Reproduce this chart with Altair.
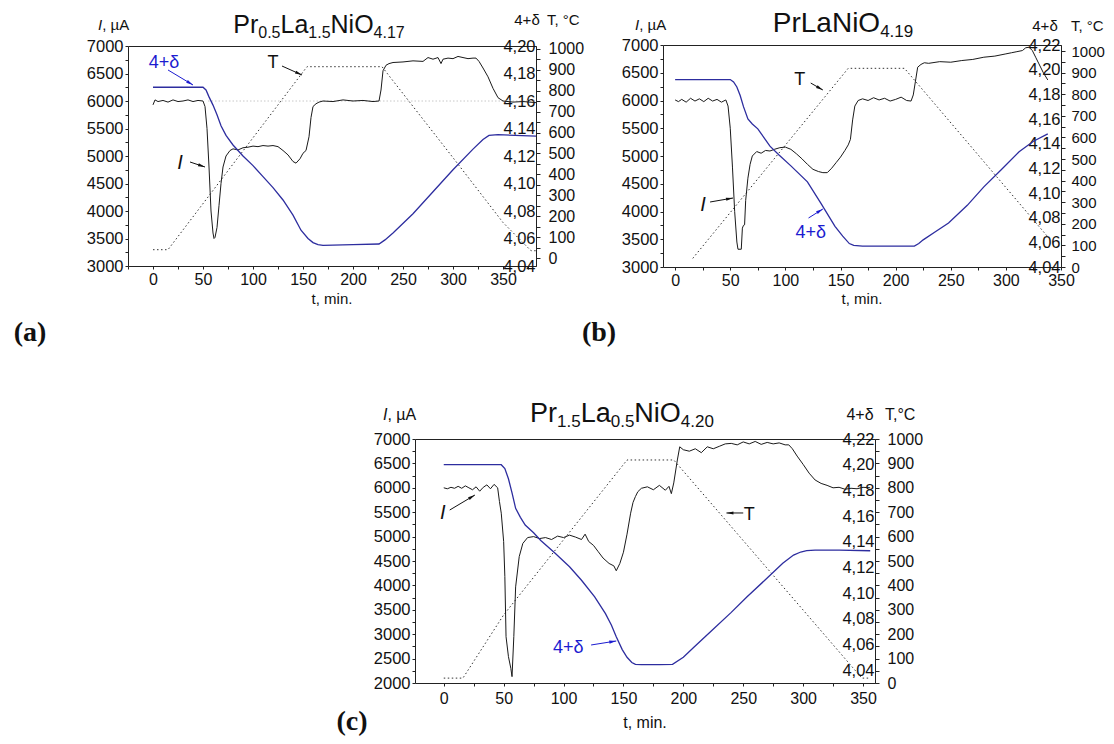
import math
import altair as alt
import pandas as pd

# ---------------- data ----------------
# panel (a)  Pr0.5La1.5NiO4.17
a_I_t = [0, 2, 5, 10, 15, 20, 25, 30, 35, 40, 45, 50, 52, 54, 56, 58, 60, 61, 62, 64,
         66, 68, 70, 73, 77, 80, 85, 90, 95, 100, 105, 110, 115, 120, 125, 130, 135, 140, 143, 147,
         150, 153, 156, 158, 160, 163, 166, 170, 180, 190, 200, 210, 220, 226, 228, 230, 233, 236, 240, 250,
         260, 270, 275, 280, 285, 288, 290, 295, 300, 305, 310, 315, 320, 323, 326, 330, 335, 340, 345, 350,
         360, 370, 383]
a_I_v = [5930, 6020, 5990, 6010, 5980, 6020, 5990, 6000, 6020, 5990, 6010, 6000, 5900, 5500, 4800, 4000, 3600, 3500, 3520, 3700,
         4100, 4500, 4800, 5000, 5100, 5130, 5110, 5150, 5160, 5180, 5170, 5190, 5180, 5190, 5170, 5100, 5020, 4900, 4870, 4950,
         5050, 5100, 5350, 5700, 5900, 5950, 5980, 6000, 5990, 6020, 6000, 6010, 5990, 6000, 6200, 6550, 6650, 6680, 6700, 6710,
         6730, 6720, 6790, 6760, 6790, 6680, 6760, 6780, 6770, 6810, 6790, 6770, 6780, 6780, 6720, 6600, 6440, 6230, 6060, 6000,
         5980, 5990, 5970]
a_d_t = [0, 50, 53, 56, 60, 64, 68, 73, 80, 90, 100, 110, 120, 130, 140, 148, 155, 160, 165, 170,
         200, 226, 232, 240, 260, 280, 300, 320, 330, 336, 345, 383]
a_d_v = [4.170, 4.170, 4.168, 4.163, 4.157, 4.150, 4.142, 4.135, 4.128, 4.120, 4.113, 4.105, 4.097, 4.088, 4.077, 4.066, 4.060, 4.057, 4.0555, 4.055,
         4.0555, 4.056, 4.059, 4.064, 4.078, 4.094, 4.110, 4.125, 4.132, 4.135, 4.1355, 4.1345]
a_T_t = [0, 15, 154, 229, 300, 350, 378, 383]
a_T_v = [40, 40, 915, 915, 480, 170, 35, 35]
a_ref_t = [55, 383]
a_ref_v = [6000, 6000]

# panel (b)  PrLaNiO4.19
b_I_t = [0, 3, 6, 10, 14, 18, 22, 26, 30, 34, 38, 42, 46, 48, 50, 52, 54, 56, 57, 60,
         61, 62, 63, 64, 66, 68, 70, 74, 78, 82, 86, 90, 95, 100, 105, 110, 115, 120, 125, 130,
         134, 138, 142, 146, 150, 154, 157, 159, 161, 163, 166, 170, 175, 180, 185, 190, 195, 200, 205, 210,
         214, 216, 218, 220, 223, 226, 230, 240, 250, 260, 270, 280, 290, 300, 305, 310, 315, 318, 321, 324,
         327, 330, 334, 338]
b_I_v = [6010, 5980, 6020, 5970, 6040, 5990, 6030, 5980, 6040, 5990, 6020, 5970, 6010, 5900, 5500, 4800, 4000, 3450, 3320, 3320,
         3700, 3750, 3760, 4200, 4600, 4850, 5000, 5080, 5050, 5100, 5090, 5120, 5150, 5160, 5120, 5040, 4950, 4850, 4760, 4720,
         4700, 4700, 4780, 4880, 4980, 5100, 5200, 5300, 5650, 5900, 6000, 6030, 6000, 6050, 6010, 6040, 5990, 6020, 6060, 6000,
         5990, 6100, 6350, 6600, 6650, 6680, 6670, 6700, 6690, 6720, 6740, 6780, 6800, 6840, 6860, 6880, 6900, 6950, 6960, 6900,
         6780, 6660, 6500, 6370]
b_d_t = [0, 50, 53, 56, 59, 62, 66, 70, 75, 86, 94, 105, 120, 132, 145, 152, 158, 162, 170, 217,
         221, 225, 235, 248, 265, 280, 296, 312, 325, 338]
b_d_v = [4.192, 4.192, 4.190, 4.186, 4.179, 4.170, 4.160, 4.156, 4.152, 4.138, 4.131, 4.122, 4.109, 4.092, 4.073, 4.065, 4.059, 4.0575, 4.057, 4.057,
         4.059, 4.062, 4.068, 4.0756, 4.090, 4.105, 4.119, 4.1335, 4.142, 4.148]
b_T_t = [16, 157, 208, 338]
b_T_v = [40, 920, 920, 140]

# panel (c)  Pr1.5La0.5NiO4.20
c_I_t = [0, 3, 6, 9, 12, 15, 18, 21, 24, 27, 30, 33, 36, 39, 42, 45, 46.5, 48, 50, 51,
         52, 54, 56, 57, 58.5, 60, 63, 66, 70, 75, 80, 85, 90, 95, 100, 105, 110, 115, 118, 121,
         125, 129, 133, 138, 142, 144, 147, 150, 153, 156, 158, 160, 162, 165, 170, 175, 180, 185, 188, 190,
         192, 195, 197, 200, 205, 210, 215, 220, 225, 230, 235, 240, 245, 250, 255, 260, 265, 270, 275, 280,
         285, 288, 291, 295, 300, 305, 310, 315, 320, 325, 330, 335, 340, 345, 350, 356]
c_I_v = [6000, 5980, 6010, 5990, 6030, 5990, 6040, 6000, 5960, 6020, 5930, 6010, 6060, 5980, 6070, 6000, 5720, 5480, 4900, 4180,
         2950, 2540, 2300, 2130, 2950, 3970, 4590, 4860, 4980, 5000, 4960, 4980, 4940, 5010, 4980, 5030, 4990, 4940, 5050, 4900,
         4820, 4690, 4560, 4450, 4400, 4300, 4450, 4680, 5050, 5480, 5700, 5820, 5920, 5990, 6020, 5960, 6050, 5950, 6030, 5880,
         6100, 6570, 6840, 6780, 6750, 6800, 6720, 6840, 6800, 6850, 6900, 6910, 6880, 6940, 6900, 6950, 6890, 6930, 6900, 6920,
         6880, 6880, 6800, 6650, 6480, 6300, 6160, 6090, 6050, 6000, 6010, 5970, 5990, 5980, 6010, 6000]
c_d_t = [0, 48, 51, 54, 57, 60, 64, 68, 75, 81, 93, 105, 115, 126, 135, 140, 144, 149, 153, 157,
         160, 165, 180, 191, 200, 209, 224, 240, 253, 268, 283, 292, 298, 303, 310, 330, 356]
c_d_v = [4.200, 4.200, 4.197, 4.189, 4.178, 4.166, 4.159, 4.153, 4.147, 4.141, 4.131, 4.1205, 4.110, 4.097, 4.084, 4.075, 4.066, 4.056, 4.050, 4.046,
         4.0445, 4.0443, 4.0443, 4.0445, 4.050, 4.058, 4.071, 4.085, 4.097, 4.110, 4.1232, 4.1296, 4.132, 4.133, 4.1335, 4.1335, 4.133]
c_T_t = [0, 16, 50, 153, 192, 349, 356]
c_T_v = [20, 20, 279, 914, 914, 20, 20]

# ---------------- layout ----------------
W, H = 1098, 728
FONT = "Liberation Sans"
INK = "#111111"
BLUE_LINE = "#2d2d9f"
BLUE_TXT = "#1c1cd0"
ONE = pd.DataFrame({"k": [0]})

PANELS = {
    "a": dict(x0=120, x1=528, y0=38, y1=258, tdom=[-25, 383], Idom=[3000, 7000],
              ddom=[4.04, 4.20], Tdom=[-38, 1014], xpad=2, Tsize=16, Tpad=8),
    "b": dict(x0=655, x1=1053, y0=37, y1=259, tdom=[-11, 350], Idom=[3000, 7000],
              ddom=[4.04, 4.22], Tdom=[0, 1028], xpad=2, Tsize=15, Tpad=6),
    "c": dict(x0=407, x1=867, y0=431, y1=675, tdom=[-24, 360], Idom=[2000, 7000],
              ddom=[4.03, 4.22], Tdom=[0, 1000], xpad=4, Tsize=16, Tpad=8),
}


def df(t, v):
    assert len(t) == len(v)
    return pd.DataFrame({"t": t, "v": v})


def txt(s, x, y, size=15, color=INK, font=FONT, style="normal", weight="normal", align="left"):
    return alt.Chart(ONE).mark_text(
        text=s, fontSize=size, color=color, font=font, fontStyle=style,
        fontWeight=weight, align=align, baseline="alphabetic",
    ).encode(x=alt.value(x), y=alt.value(y))


AW = {"P": 667, "r": 333, "L": 556, "a": 556, "N": 722, "i": 222, "O": 778, ".": 278}
for _d in "0123456789":
    AW[_d] = 556


def formula(parts, cx, base, big=26, small=17):
    widths = [sum(AW[c] for c in s) / 1000 * (small if sub else big) for s, sub in parts]
    x = cx - sum(widths) / 2
    out = []
    for (s, sub), w in zip(parts, widths):
        out.append(txt(s, x, base + (5 if sub else 0), size=small if sub else big))
        x += w
    return out


def axis_title_I(x, base, size=15):
    return [txt("I", x, base, size=size, style="italic"),
            txt(", µA", x + 0.278 * size, base, size=size)]


def panel_layers(key, I_t, I_v, d_t, d_v, T_t, T_v, notes, arrows, extra=None):
    p = PANELS[key]
    xs = alt.Scale(domain=p["tdom"], range=[p["x0"], p["x1"]], nice=False, zero=False)
    yI = alt.Scale(domain=p["Idom"], range=[p["y1"], p["y0"]], nice=False, zero=False)
    yd = alt.Scale(domain=p["ddom"], range=[p["y1"], p["y0"]], nice=False, zero=False)
    yT = alt.Scale(domain=p["Tdom"], range=[p["y1"], p["y0"]], nice=False, zero=False)

    tvals = [v for v in range(-50, 401, 25) if p["tdom"][0] <= v <= p["tdom"][1]]
    Ivals = list(range(p["Idom"][0], p["Idom"][1] + 1, 250))
    n_d = int(round((p["ddom"][1] - p["ddom"][0]) * 100))
    dvals = [round(p["ddom"][0] + 0.01 * k, 2) for k in range(n_d + 1)]
    Tvals = list(range(0, 1001, 50))

    x_axis = alt.Axis(orient="bottom", offset=-(H - p["y1"]), values=tvals, format="d",
                      labelExpr="(datum.value % 50 === 0 && datum.value >= 0 && datum.value <= 350) ? datum.label : ''",
                      title=None, tickSize=3, labelPadding=p["xpad"], labelFontSize=16,
                      labelFlush=False, labelOverlap=False, grid=False)
    top_axis = alt.Axis(orient="top", offset=-p["y0"], labels=False, ticks=False, title=None,
                        grid=False, domain=True)
    I_axis = alt.Axis(orient="left", offset=-p["x0"], values=Ivals, format="d",
                      labelExpr="datum.value % 500 === 0 ? datum.label : ''",
                      title=None, tickSize=3, labelPadding=2, labelFontSize=16.5,
                      labelFlush=False, labelOverlap=False, grid=False)
    d_axis = alt.Axis(orient="left", offset=-p["x1"], values=dvals,
                      labelExpr="abs(round(datum.value*100)) % 2 === 0 ? replace(format(datum.value, '.2f'), '.', ',') : ''",
                      title=None, tickSize=0, labelPadding=1, labelFontSize=16.5,
                      labelFlush=False, labelOverlap=False, grid=False)
    T_axis = alt.Axis(orient="right", offset=-(W - p["x1"]), values=Tvals, format="d",
                      labelExpr="datum.value % 100 === 0 ? datum.label : ''",
                      title=None, tickSize=4, labelPadding=p["Tpad"], labelFontSize=p["Tsize"],
                      labelFlush=False, labelOverlap=False, grid=False)

    layers = []
    # temperature (dotted)
    layers.append(alt.Chart(df(T_t, T_v)).mark_line(color="#333333", strokeWidth=1, strokeDash=[1.5, 2.5]).encode(
        x=alt.X("t:Q", scale=xs, axis=None), y=alt.Y("v:Q", scale=yT, axis=T_axis)))
    if extra is not None:
        layers.append(alt.Chart(df(*extra)).mark_line(color="#c8c8c8", strokeWidth=1, strokeDash=[1.5, 2]).encode(
            x=alt.X("t:Q", scale=xs, axis=None), y=alt.Y("v:Q", scale=yI, axis=None)))
    # current
    layers.append(alt.Chart(df(I_t, I_v)).mark_line(color="#1a1a1a", strokeWidth=1).encode(
        x=alt.X("t:Q", scale=xs, axis=x_axis), y=alt.Y("v:Q", scale=yI, axis=I_axis)))
    # oxygen content
    layers.append(alt.Chart(df(d_t, d_v)).mark_line(color=BLUE_LINE, strokeWidth=1.3).encode(
        x=alt.X("t:Q", scale=xs, axis=top_axis), y=alt.Y("v:Q", scale=yd, axis=d_axis)))

    pxx = (p["x1"] - p["x0"]) / (p["tdom"][1] - p["tdom"][0])
    pxy = (p["y1"] - p["y0"]) / (p["Idom"][1] - p["Idom"][0])
    for n in notes:
        layers.append(alt.Chart(pd.DataFrame({"t": [n["t"]], "v": [n["v"]]})).mark_text(
            text=n["text"], fontSize=n.get("size", 17), color=n.get("color", INK), font=FONT,
            fontStyle=n.get("style", "normal"), align="center", baseline="middle").encode(
            x=alt.X("t:Q", scale=xs, axis=None), y=alt.Y("v:Q", scale=yI, axis=None)))
    for a in arrows:
        col = a.get("color", INK)
        seg = pd.DataFrame({"t0": [a["t0"]], "v0": [a["v0"]], "t1": [a["t1"]], "v1": [a["v1"]]})
        layers.append(alt.Chart(seg).mark_rule(color=col, strokeWidth=1).encode(
            x=alt.X("t0:Q", scale=xs, axis=None), x2="t1:Q",
            y=alt.Y("v0:Q", scale=yI, axis=None), y2="v1:Q"))
        dx = (a["t1"] - a["t0"]) * pxx
        dy = -(a["v1"] - a["v0"]) * pxy
        ang = math.degrees(math.atan2(dx, -dy)) % 360
        layers.append(alt.Chart(seg).mark_point(
            shape="M0,0L1.6,7L-1.6,7Z", size=4, filled=True, color=col, opacity=1,
            angle=ang, strokeWidth=0).encode(
            x=alt.X("t1:Q", scale=xs, axis=None), y=alt.Y("v1:Q", scale=yI, axis=None)))
    return layers


notes_a = [dict(text="4+δ", t=11, v=6691, color=BLUE_TXT, size=18),
           dict(text="T", t=120, v=6691, size=18),
           dict(text="I", t=27, v=4873, size=20, style="italic")]
arrows_a = [dict(t0=15, v0=6564, t1=40, v1=6291, color=BLUE_TXT),
            dict(t0=129, v0=6636, t1=149, v1=6473),
            dict(t0=37, v0=4891, t1=52, v1=4800)]

notes_b = [dict(text="T", t=113, v=6369, size=18),
           dict(text="I", t=25.3, v=4117, size=20, style="italic"),
           dict(text="4+δ", t=123, v=3613, color=BLUE_TXT, size=18)]
arrows_b = [dict(t0=123, v0=6315, t1=134, v1=6189),
            dict(t0=31.7, v0=4171, t1=52.5, v1=4243),
            dict(t0=121, v0=3883, t1=134, v1=4045, color=BLUE_TXT)]

notes_c = [dict(text="I", t=-0.8, v=5484, size=20, style="italic"),
           dict(text="4+δ", t=104, v=2717, color=BLUE_TXT, size=18),
           dict(text="T", t=255, v=5443, size=18)]
arrows_c = [dict(t0=5, v0=5545, t1=26, v1=5852),
            dict(t0=123, v0=2779, t1=144, v1=2861, color=BLUE_TXT),
            dict(t0=250, v0=5484, t1=236, v1=5484)]

layers = []
layers += panel_layers("a", a_I_t, a_I_v, a_d_t, a_d_v, a_T_t, a_T_v, notes_a, arrows_a,
                       extra=(a_ref_t, a_ref_v))
layers += panel_layers("b", b_I_t, b_I_v, b_d_t, b_d_v, b_T_t, b_T_v, notes_b, arrows_b)
layers += panel_layers("c", c_I_t, c_I_v, c_d_t, c_d_v, c_T_t, c_T_v, notes_c, arrows_c)

# titles with subscripts
layers += formula([("Pr", False), ("0.5", True), ("La", False), ("1.5", True), ("NiO", False), ("4.17", True)], 311, 25, big=25, small=16)
layers += formula([("PrLaNiO", False), ("4.19", True)], 835, 24, big=28, small=17)
layers += formula([("Pr", False), ("1.5", True), ("La", False), ("0.5", True), ("NiO", False), ("4.20", True)], 614, 414, big=27, small=17)

# axis titles
layers += axis_title_I(90, 22)
layers += axis_title_I(627, 22)
layers += axis_title_I(375, 412, size=16)
layers += [txt("4+δ", 519, 17, size=15, align="center"), txt("T, °C", 539, 17, size=15),
           txt("4+δ", 1037, 23, size=15, align="center"), txt("T, °C", 1063, 23, size=15),
           txt("4+δ", 852, 412, size=16, align="center"), txt("T,°C", 877, 412, size=16)]
layers += [txt("t, min.", 324, 296, size=15, align="center"),
           txt("t, min.", 854, 296, size=15, align="center"),
           txt("t, min.", 637, 720, size=16, align="center")]
# panel letters
SERIF = "Liberation Serif"
layers += [txt("(a)", 22, 333, size=28, font=SERIF, weight="bold", align="center"),
           txt("(b)", 591, 333, size=28, font=SERIF, weight="bold", align="center"),
           txt("(c)", 344, 722, size=28, font=SERIF, weight="bold", align="center")]

chart = alt.layer(*layers).resolve_scale(x="independent", y="independent").properties(
    width=W, height=H, autosize=alt.AutoSizeParams(type="none"), padding=0,
).configure_view(stroke=None).configure_axis(
    labelFont=FONT, labelColor=INK, domainColor="#222222", tickColor="#222222", grid=False,
)

chart.save("out.html", embed_options={"renderer": "svg", "actions": False})
